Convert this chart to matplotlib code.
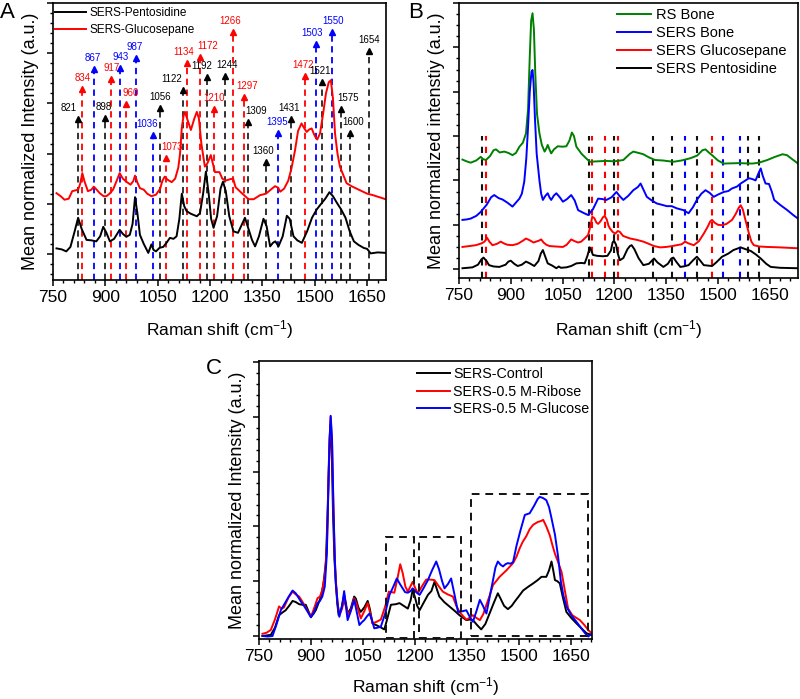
import matplotlib
matplotlib.use("Agg")
import matplotlib.pyplot as plt
from matplotlib.ticker import MultipleLocator, NullFormatter
from matplotlib.patches import Rectangle

plt.rcParams['font.family'] = ['Liberation Sans', 'DejaVu Sans']
plt.rcParams['mathtext.fontset'] = 'custom'
plt.rcParams['mathtext.rm'] = 'Liberation Sans'
plt.rcParams['mathtext.default'] = 'regular'
plt.rcParams['lines.solid_joinstyle'] = 'round'

# ---------------- Panel A data ----------------
a_pento_x = [760, 775, 788, 800, 812, 822, 832, 846, 860, 874, 885, 894, 903, 913, 925, 941, 950, 960, 970, 978,
             985, 992, 999, 1010, 1023, 1032, 1038, 1045, 1055, 1066, 1075, 1085, 1095, 1104, 1112, 1119, 1126,
             1133, 1145, 1162, 1171, 1180, 1188, 1196, 1203, 1210, 1220, 1230, 1237, 1245, 1255, 1267, 1280,
             1292, 1300, 1310, 1320, 1329, 1340, 1353, 1362, 1372, 1380, 1387, 1396, 1408, 1420, 1428, 1439,
             1450, 1463, 1478, 1492, 1505, 1516, 1530, 1542, 1552, 1564, 1576, 1588, 1600, 1612, 1625, 1640,
             1650, 1660, 1680, 1705]
a_pento_y = [0.11, 0.09, 0.05, 0.14, 0.45, 0.72, 0.50, 0.28, 0.27, 0.25, 0.35, 0.54, 0.42, 0.25, 0.30, 0.48, 0.40,
             0.34, 0.38, 0.60, 1.13, 0.80, 0.38, 0.20, 0.02, 0.19, 0.08, 0.05, 0.12, 0.14, 0.22, 0.32, 0.30, 0.35,
             0.70, 1.20, 0.95, 0.85, 0.80, 0.75, 0.81, 1.20, 1.64, 1.20, 0.70, 0.52, 0.75, 1.30, 1.44, 1.25, 0.75,
             0.45, 0.42, 0.60, 0.72, 0.50, 0.28, 0.15, 0.35, 0.70, 0.55, 0.15, 0.22, 0.25, 0.15, 0.35, 0.76, 0.70,
             0.35, 0.27, 0.22, 0.45, 0.72, 0.88, 0.98, 1.10, 1.23, 1.15, 1.01, 0.88, 0.72, 0.45, 0.25, 0.18, 0.12,
             0.10, 0.01, 0.03, 0.02]

a_gluco_x = [760, 772, 783, 795, 805, 822, 828, 834, 840, 850, 860, 867, 875, 884, 895, 903, 912, 922, 932, 941,
             950, 960, 972, 980, 985, 992, 999, 1010, 1020, 1032, 1045, 1057, 1063, 1070, 1078, 1090, 1100, 1109,
             1114, 1119, 1124, 1128, 1134, 1145, 1155, 1162, 1168, 1175, 1185, 1192, 1202, 1208, 1214, 1227,
             1235, 1244, 1258, 1266, 1273, 1291, 1310, 1325, 1343, 1360, 1372, 1386, 1395, 1401, 1412, 1424,
             1433, 1443, 1452, 1462, 1470, 1477, 1484, 1491, 1500, 1507, 1515, 1524, 1532, 1540, 1546, 1552,
             1558, 1565, 1572, 1580, 1591, 1605, 1629, 1650, 1667, 1703]
a_gluco_y = [1.21, 1.15, 1.08, 1.10, 1.25, 1.28, 1.40, 1.61, 1.45, 1.25, 1.28, 1.34, 1.28, 1.21, 1.15, 1.15, 1.20,
             1.28, 1.45, 1.61, 1.50, 1.44, 1.38, 1.45, 1.56, 1.42, 1.31, 1.28, 1.20, 1.15, 1.18, 1.30, 1.45, 1.54,
             1.48, 1.43, 1.50, 1.72, 2.00, 2.52, 2.75, 2.83, 2.70, 2.47, 2.70, 2.83, 2.70, 2.20, 1.74, 1.80, 1.97,
             1.80, 1.63, 1.63, 1.50, 1.46, 1.49, 1.50, 1.33, 1.21, 1.09, 1.09, 1.17, 1.20, 1.27, 1.35, 1.32, 1.24,
             1.30, 1.46, 1.70, 2.05, 2.45, 2.60, 2.50, 2.43, 2.48, 2.50, 2.35, 2.28, 2.40, 2.80, 3.20, 3.42, 3.46,
             3.10, 2.40, 2.00, 1.74, 1.60, 1.41, 1.35, 1.27, 1.20, 1.17, 1.09]

a_peaks = [821, 834, 867, 898, 917, 943, 960, 987, 1036, 1056, 1073, 1122, 1134, 1172, 1192, 1210, 1244, 1266,
           1297, 1309, 1360, 1395, 1431, 1472, 1503, 1521, 1550, 1575, 1600, 1654]
a_peak_colors = ['k', 'r', 'b', 'k', 'r', 'b', 'r', 'b', 'b', 'k', 'r', 'k', 'r', 'r', 'k', 'r', 'k', 'r',
                 'r', 'k', 'k', 'b', 'k', 'r', 'b', 'k', 'b', 'k', 'k', 'k']
a_peak_tops = [2.76, 3.36, 3.76, 2.78, 3.56, 3.78, 3.06, 3.98, 2.43, 2.98, 1.99, 3.34, 3.88, 4.00, 3.60, 2.96,
               3.62, 4.49, 3.20, 2.70, 1.91, 2.47, 2.76, 3.62, 4.25, 3.50, 4.49, 2.96, 2.47, 4.12]
a_label_shift = [-27, 0, -2, -3, 0, 0, 12, -2, -17, 2, 17, -32, -9, 20, -15, 0, 4, -8,
                 10, 24, -8, -3, -6, -6, -10, -6, 2, 21, 10, 2]

# ---------------- Panel B data ----------------
b_rs_x = [760, 772, 784, 800, 813, 820, 828, 840, 850, 857, 868, 881, 893, 905, 915, 925, 935, 944, 950, 955, 959,
          963, 967, 971, 976, 983, 990, 998, 1003, 1007, 1012, 1017, 1025, 1036, 1050, 1061, 1070, 1077, 1083,
          1090, 1105, 1118, 1129, 1150, 1177, 1200, 1226, 1245, 1255, 1270, 1284, 1300, 1318, 1340, 1371, 1395,
          1420, 1440, 1455, 1464, 1475, 1483, 1500, 1517, 1560, 1600, 1619, 1643, 1665, 1687, 1700, 1715, 1732]
b_rs_y = [2.47, 2.43, 2.40, 2.45, 2.53, 2.48, 2.46, 2.55, 2.68, 2.70, 2.63, 2.65, 2.62, 2.57, 2.62, 2.76, 2.85,
          3.06, 3.60, 4.80, 5.60, 5.77, 5.40, 4.40, 3.50, 3.06, 2.80, 2.65, 2.72, 2.80, 2.70, 2.61, 2.70, 2.77,
          2.76, 2.77, 2.90, 3.08, 3.00, 2.76, 2.60, 2.50, 2.42, 2.43, 2.44, 2.43, 2.46, 2.60, 2.65, 2.62, 2.59,
          2.52, 2.46, 2.45, 2.42, 2.45, 2.50, 2.56, 2.68, 2.70, 2.62, 2.57, 2.45, 2.38, 2.39, 2.38, 2.40, 2.46,
          2.53, 2.59, 2.57, 2.48, 2.38]

b_bone_x = [760, 772, 784, 800, 813, 830, 843, 852, 865, 876, 890, 905, 915, 925, 932, 939, 945, 950, 955, 960,
            963, 966, 970, 975, 983, 988, 993, 1000, 1007, 1012, 1017, 1025, 1032, 1042, 1051, 1063, 1075, 1085,
            1095, 1110, 1124, 1138, 1153, 1165, 1177, 1192, 1206, 1215, 1226, 1240, 1255, 1268, 1276, 1285,
            1294, 1308, 1323, 1338, 1352, 1366, 1381, 1400, 1415, 1428, 1439, 1452, 1464, 1476, 1488, 1500,
            1517, 1530, 1541, 1555, 1566, 1580, 1590, 1600, 1609, 1617, 1624, 1630, 1638, 1648, 1656, 1663,
            1680, 1701, 1718, 1732]
b_bone_y = [1.11, 1.12, 1.14, 1.20, 1.29, 1.45, 1.62, 1.67, 1.60, 1.57, 1.50, 1.41, 1.50, 1.59, 1.70, 1.97, 2.50,
            3.20, 4.00, 4.45, 4.49, 4.20, 3.40, 2.60, 2.00, 1.70, 1.56, 1.65, 1.71, 1.62, 1.56, 1.66, 1.71, 1.62,
            1.52, 1.58, 1.67, 1.55, 1.33, 1.27, 1.22, 1.35, 1.59, 1.58, 1.56, 1.62, 1.74, 1.65, 1.56, 1.65, 1.78,
            1.85, 1.93, 1.78, 1.63, 1.55, 1.48, 1.45, 1.42, 1.42, 1.37, 1.33, 1.26, 1.40, 1.56, 1.70, 1.78, 1.72,
            1.63, 1.68, 1.74, 1.76, 1.82, 1.86, 1.93, 2.00, 2.05, 2.03, 2.00, 2.15, 2.27, 2.10, 1.93, 1.92, 1.75,
            1.56, 1.45, 1.33, 1.22, 1.14]

b_gluco_x = [760, 780, 799, 815, 824, 831, 838, 847, 860, 871, 880, 890, 905, 920, 935, 944, 955, 966, 973, 981,
             988, 995, 1003, 1012, 1030, 1051, 1062, 1075, 1085, 1095, 1104, 1115, 1124, 1130, 1136, 1142, 1148,
             1153, 1160, 1167, 1172, 1178, 1183, 1187, 1195, 1203, 1210, 1216, 1225, 1235, 1246, 1265, 1284,
             1300, 1315, 1333, 1350, 1368, 1381, 1395, 1405, 1415, 1430, 1445, 1459, 1470, 1478, 1483, 1490,
             1500, 1512, 1525, 1541, 1552, 1560, 1566, 1572, 1580, 1590, 1597, 1604, 1620, 1643, 1680, 1732]
b_gluco_y = [0.50, 0.52, 0.54, 0.58, 0.62, 0.71, 0.62, 0.54, 0.57, 0.62, 0.58, 0.55, 0.54, 0.57, 0.64, 0.69, 0.65,
             0.60, 0.62, 0.64, 0.67, 0.60, 0.55, 0.52, 0.51, 0.50, 0.55, 0.67, 0.63, 0.60, 0.62, 0.70, 0.77, 0.95,
             1.18, 1.15, 1.05, 1.02, 1.08, 1.17, 1.20, 1.12, 0.98, 0.92, 0.84, 0.80, 0.86, 0.84, 0.75, 0.72, 0.69,
             0.66, 0.62, 0.57, 0.52, 0.49, 0.50, 0.52, 0.54, 0.56, 0.62, 0.58, 0.54, 0.63, 0.80, 0.95, 1.08, 1.11,
             1.05, 1.00, 0.99, 1.02, 1.11, 1.25, 1.38, 1.44, 1.35, 1.10, 0.80, 0.62, 0.54, 0.51, 0.50, 0.49, 0.47]

b_pento_x = [760, 775, 789, 805, 815, 821, 830, 837, 850, 867, 885, 893, 900, 910, 920, 932, 944, 955, 968, 980,
             987, 993, 999, 1007, 1020, 1032, 1039, 1045, 1061, 1075, 1090, 1105, 1114, 1122, 1129, 1134, 1138,
             1150, 1167, 1180, 1190, 1195, 1199, 1205, 1210, 1216, 1226, 1238, 1245, 1250, 1258, 1270, 1284,
             1300, 1310, 1315, 1325, 1342, 1355, 1365, 1371, 1380, 1391, 1400, 1415, 1428, 1439, 1448, 1459,
             1483, 1495, 1512, 1530, 1545, 1566, 1580, 1595, 1610, 1624, 1640, 1653, 1680, 1732]
b_pento_y = [0.02, 0.03, 0.04, 0.10, 0.22, 0.26, 0.18, 0.09, 0.06, 0.05, 0.10, 0.17, 0.19, 0.12, 0.07, 0.10, 0.17,
             0.13, 0.07, 0.18, 0.35, 0.43, 0.30, 0.13, 0.08, 0.02, 0.06, 0.03, 0.04, 0.07, 0.13, 0.14, 0.13, 0.30,
             0.49, 0.40, 0.32, 0.30, 0.29, 0.30, 0.42, 0.60, 0.64, 0.55, 0.35, 0.20, 0.25, 0.45, 0.52, 0.54, 0.45,
             0.25, 0.09, 0.12, 0.20, 0.24, 0.15, 0.05, 0.12, 0.24, 0.26, 0.16, 0.05, 0.06, 0.09, 0.20, 0.28, 0.20,
             0.09, 0.07, 0.15, 0.28, 0.35, 0.43, 0.49, 0.45, 0.41, 0.33, 0.24, 0.12, 0.05, 0.03, 0.02]

b_marks_x = [816, 829, 1126, 1135, 1173, 1198, 1212, 1313, 1368, 1404, 1440, 1483, 1515, 1563, 1587, 1619]
b_marks_colors = ['k', 'r', 'k', 'r', 'r', 'k', 'r', 'k', 'k', 'b', 'k', 'r', 'b', 'b', 'k', 'k']
b_marks_top = 3.0

# ---------------- Panel C data ----------------
c_ctrl_x = [760, 772, 784, 796, 808, 818, 827, 837, 847, 856, 866, 876, 885, 893, 900, 907, 914, 922, 929, 936,
            943, 948, 952, 956, 960, 964, 968, 972, 976, 980, 988, 996, 1001, 1006, 1015, 1025, 1030, 1037, 1044,
            1054, 1064, 1070, 1078, 1088, 1098, 1112, 1120, 1131, 1145, 1156, 1168, 1180, 1188, 1194, 1200,
            1207, 1214, 1225, 1238, 1248, 1257, 1264, 1271, 1285, 1300, 1315, 1329, 1340, 1349, 1358, 1368,
            1380, 1392, 1404, 1416, 1428, 1440, 1448, 1458, 1469, 1480, 1489, 1500, 1513, 1528, 1542, 1555,
            1566, 1580, 1588, 1595, 1600, 1605, 1612, 1619, 1628, 1638, 1652, 1667, 1680, 1696, 1711]
c_ctrl_y = [0.00, 0.01, 0.02, 0.15, 0.38, 0.43, 0.47, 0.55, 0.64, 0.62, 0.58, 0.57, 0.57, 0.45, 0.35, 0.40, 0.47,
            0.60, 0.72, 0.95, 1.33, 2.20, 3.20, 3.85, 3.40, 2.20, 1.40, 0.96, 0.60, 0.38, 0.50, 0.75, 0.60, 0.41,
            0.50, 0.72, 0.68, 0.52, 0.44, 0.52, 0.64, 0.50, 0.23, 0.20, 0.17, 0.12, 0.30, 0.57, 0.58, 0.60, 0.55,
            0.50, 0.65, 0.84, 0.72, 0.55, 0.47, 0.60, 0.75, 0.82, 0.99, 0.85, 0.72, 0.62, 0.54, 0.46, 0.38, 0.33,
            0.29, 0.30, 0.29, 0.20, 0.12, 0.22, 0.41, 0.60, 0.78, 0.68, 0.55, 0.49, 0.55, 0.63, 0.72, 0.83, 0.90,
            0.96, 1.02, 1.08, 1.08, 1.20, 1.36, 1.20, 1.02, 1.00, 0.96, 0.70, 0.44, 0.33, 0.23, 0.15, 0.05, 0.02]

c_ribose_x = [760, 772, 784, 796, 808, 815, 822, 835, 847, 856, 866, 876, 888, 900, 910, 919, 926, 933, 940, 946,
              950, 954, 957, 961, 965, 969, 972, 977, 982, 990, 996, 1002, 1009, 1017, 1025, 1031, 1038, 1044,
              1054, 1064, 1070, 1078, 1090, 1102, 1115, 1125, 1133, 1141, 1150, 1158, 1165, 1173, 1180, 1187,
              1194, 1201, 1209, 1220, 1233, 1245, 1257, 1268, 1281, 1295, 1310, 1320, 1329, 1340, 1349, 1358,
              1368, 1378, 1388, 1398, 1407, 1417, 1426, 1435, 1445, 1455, 1465, 1475, 1484, 1494, 1503, 1512,
              1522, 1532, 1542, 1555, 1565, 1571, 1580, 1590, 1598, 1605, 1614, 1624, 1633, 1643, 1655, 1667,
              1677, 1690, 1701, 1711]
c_ribose_y = [0.04, 0.06, 0.11, 0.30, 0.54, 0.50, 0.52, 0.70, 0.81, 0.76, 0.72, 0.62, 0.48, 0.35, 0.52, 0.69, 0.72,
              0.84, 1.10, 1.60, 2.60, 3.60, 4.00, 3.50, 2.30, 1.40, 1.02, 0.60, 0.38, 0.50, 0.66, 0.52, 0.38, 0.50,
              0.69, 0.60, 0.45, 0.32, 0.45, 0.60, 0.45, 0.23, 0.26, 0.30, 0.55, 0.81, 0.80, 0.79, 1.05, 1.31, 1.15,
              0.90, 0.81, 0.90, 0.99, 0.88, 0.78, 0.90, 1.03, 1.03, 1.02, 0.92, 0.81, 0.76, 0.72, 0.55, 0.44, 0.36,
              0.30, 0.33, 0.38, 0.33, 0.29, 0.40, 0.57, 0.75, 0.93, 1.00, 1.08, 1.14, 1.20, 1.27, 1.33, 1.45, 1.60,
              1.72, 1.82, 1.95, 2.03, 2.08, 2.10, 2.12, 2.00, 1.84, 1.65, 1.50, 1.35, 1.17, 0.85, 0.50, 0.38, 0.33,
              0.29, 0.20, 0.11, 0.05]

c_glucose_x = [760, 775, 789, 800, 813, 825, 836, 847, 856, 864, 871, 880, 890, 900, 910, 919, 926, 933, 940, 946,
               950, 954, 957, 961, 965, 969, 972, 977, 982, 990, 996, 1001, 1006, 1015, 1025, 1032, 1040, 1047,
               1054, 1062, 1069, 1076, 1083, 1092, 1102, 1115, 1127, 1138, 1148, 1157, 1165, 1172, 1180, 1188,
               1194, 1204, 1214, 1226, 1238, 1250, 1262, 1270, 1279, 1286, 1296, 1305, 1315, 1325, 1337, 1349,
               1358, 1368, 1378, 1388, 1397, 1407, 1416, 1426, 1433, 1440, 1448, 1455, 1462, 1469, 1477, 1484,
               1494, 1505, 1518, 1532, 1545, 1555, 1561, 1570, 1580, 1588, 1595, 1605, 1614, 1622, 1629, 1638,
               1652, 1667, 1680, 1692, 1701, 1711]
c_glucose_y = [0.00, -0.01, 0.00, 0.20, 0.47, 0.60, 0.72, 0.83, 0.78, 0.70, 0.63, 0.55, 0.45, 0.34, 0.45, 0.60,
               0.64, 0.72, 0.90, 1.50, 2.60, 3.60, 4.02, 3.60, 2.40, 1.40, 0.96, 0.60, 0.35, 0.55, 0.82, 0.55, 0.29,
               0.45, 0.66, 0.45, 0.20, 0.25, 0.29, 0.36, 0.41, 0.30, 0.14, 0.15, 0.17, 0.42, 0.75, 0.90, 1.05, 0.95,
               0.87, 0.80, 0.79, 0.82, 0.87, 0.80, 0.75, 0.88, 1.02, 1.20, 1.36, 1.22, 1.00, 0.87, 0.95, 1.05, 0.75,
               0.44, 0.45, 0.47, 0.36, 0.26, 0.45, 0.66, 0.55, 0.41, 0.70, 1.02, 1.25, 1.36, 1.30, 1.27, 1.31, 1.33,
               1.32, 1.35, 1.65, 1.92, 2.21, 2.24, 2.38, 2.50, 2.54, 2.52, 2.48, 2.35, 2.15, 1.85, 1.45, 1.00, 0.75,
               0.54, 0.38, 0.26, 0.15, 0.05, -0.01, 0.04]

# dashed boxes in panel C: (x0, x1, y0, y1)
c_boxes = [(1117, 1199, -0.04, 1.80), (1213, 1334, -0.04, 1.80), (1363, 1699, 0.0, 2.60)]

xticks = [750, 900, 1050, 1200, 1350, 1500, 1650]

# ---------------- Figure ----------------
W, H = 800, 699
fig = plt.figure(figsize=(W / 100, H / 100), dpi=100)


def ax_px(l, r, t, b):
    return fig.add_axes([l / W, 1 - b / H, (r - l) / W, (b - t) / H])


axA = ax_px(53, 386, 3, 280)
axB = ax_px(459, 798, 3, 278)
axC = ax_px(259, 592, 361, 639)


def style(ax, xlim, ylim, yminor, xlab_y):
    ax.set_xlim(*xlim)
    ax.set_ylim(*ylim)
    ax.set_xticks(xticks)
    ax.xaxis.set_minor_locator(MultipleLocator(30))
    ax.yaxis.set_major_locator(MultipleLocator(1))
    ax.yaxis.set_minor_locator(MultipleLocator(yminor))
    ax.yaxis.set_major_formatter(NullFormatter())
    ax.tick_params(axis='both', which='major', direction='out', length=4, width=1.1, labelsize=12.5,
                   top=False, right=False)
    ax.tick_params(axis='both', which='minor', direction='out', length=2.5, width=1.0, top=False, right=False)
    for s in ax.spines.values():
        s.set_linewidth(1.2)
    ax.set_xlabel('Raman shift (cm$^{-1}$)', fontsize=12.5, va='center')
    ax.xaxis.set_label_coords(0.5, xlab_y)


style(axA, (750, 1704), (-0.52, 5.0), 0.2, -0.1805)
style(axB, (750, 1732), (-0.2, 6.0), 0.25, -0.189)
style(axC, (750, 1712), (-0.055, 5.02), 0.2, -0.172)

for ax, lab, xc in [(axA, 'Mean normalized Intensity (a.u.)', -0.069),
                    (axB, 'Mean normalized intenstiy (a.u.)', -0.065),
                    (axC, 'Mean normalized Intensity (a.u.)', -0.066)]:
    ax.set_ylabel(lab, fontsize=13, va='center')
    ax.yaxis.set_label_coords(xc, 0.5)

# ---- Panel A ----
cmap = {'k': '#000000', 'r': '#ff0000', 'b': '#0000ff'}
for x, c, top, sh in zip(a_peaks, a_peak_colors, a_peak_tops, a_label_shift):
    col = cmap[c]
    axA.plot([x, x], [-0.52, top - 0.1], color=col if c != 'k' else '#222222', lw=1.3,
             ls=(0, (3.5, 2.5)), zorder=1)
    axA.plot([x], [top - 0.07], marker='^', ms=5, color=col, mec=col, zorder=3)
    axA.text(x + sh, top + 0.05, str(x), color=col, fontsize=7, ha='center', va='bottom')

axA.plot(a_pento_x, a_pento_y, color='black', lw=1.4, label='SERS-Pentosidine', zorder=2)
axA.plot(a_gluco_x, a_gluco_y, color='#ff0000', lw=1.4, label='SERS-Glucosepane', zorder=2)
axA.legend(loc='upper left', bbox_to_anchor=(55 / W, 1 - 7 / H), bbox_transform=fig.transFigure,
           frameon=False, fontsize=8.5, handlelength=2.6, handletextpad=0.35, labelspacing=0.4,
           borderpad=0, borderaxespad=0)

# ---- Panel B ----
for x, c in zip(b_marks_x, b_marks_colors):
    axB.plot([x, x], [-0.2, b_marks_top], color=cmap[c] if c != 'k' else '#111111', lw=1.5,
             ls=(0, (3, 3)), zorder=1)
axB.plot(b_rs_x, b_rs_y, color='#008000', lw=1.4, label='RS Bone', zorder=2)
axB.plot(b_bone_x, b_bone_y, color='#0000ff', lw=1.4, label='SERS Bone', zorder=2)
axB.plot(b_gluco_x, b_gluco_y, color='#ff0000', lw=1.4, label='SERS Glucosepane', zorder=2)
axB.plot(b_pento_x, b_pento_y, color='black', lw=1.4, label='SERS Pentosidine', zorder=2)
axB.legend(loc='upper left', bbox_to_anchor=(617 / W, 1 - 8 / H), bbox_transform=fig.transFigure,
           frameon=False, fontsize=10.5, handlelength=2.3, handletextpad=0.35, labelspacing=0.28,
           borderpad=0, borderaxespad=0)

# ---- Panel C ----
axC.plot(c_ctrl_x, c_ctrl_y, color='black', lw=1.4, label='SERS-Control', zorder=2)
axC.plot(c_ribose_x, c_ribose_y, color='#ff0000', lw=1.4, label='SERS-0.5 M-Ribose', zorder=2)
axC.plot(c_glucose_x, c_glucose_y, color='#0000ff', lw=1.4, label='SERS-0.5 M-Glucose', zorder=2)
for x0, x1, y0, y1 in c_boxes:
    axC.add_patch(Rectangle((x0, y0), x1 - x0, y1 - y0, fill=False, ec='#111111', lw=1.4,
                            ls=(0, (4, 3)), zorder=3, clip_on=False))
axC.legend(loc='upper left', bbox_to_anchor=(417 / W, 1 - 367 / H), bbox_transform=fig.transFigure,
           frameon=False, fontsize=10.3, handlelength=2.3, handletextpad=0.25, labelspacing=0.26,
           borderpad=0, borderaxespad=0)

# panel letters
fig.text(7 / W, 1 - 13 / H, 'A', fontsize=16, ha='center', va='center')
fig.text(416 / W, 1 - 12 / H, 'B', fontsize=16, ha='center', va='center')
fig.text(214 / W, 1 - 368 / H, 'C', fontsize=16, ha='center', va='center')

fig.savefig('out.png', dpi=100)
